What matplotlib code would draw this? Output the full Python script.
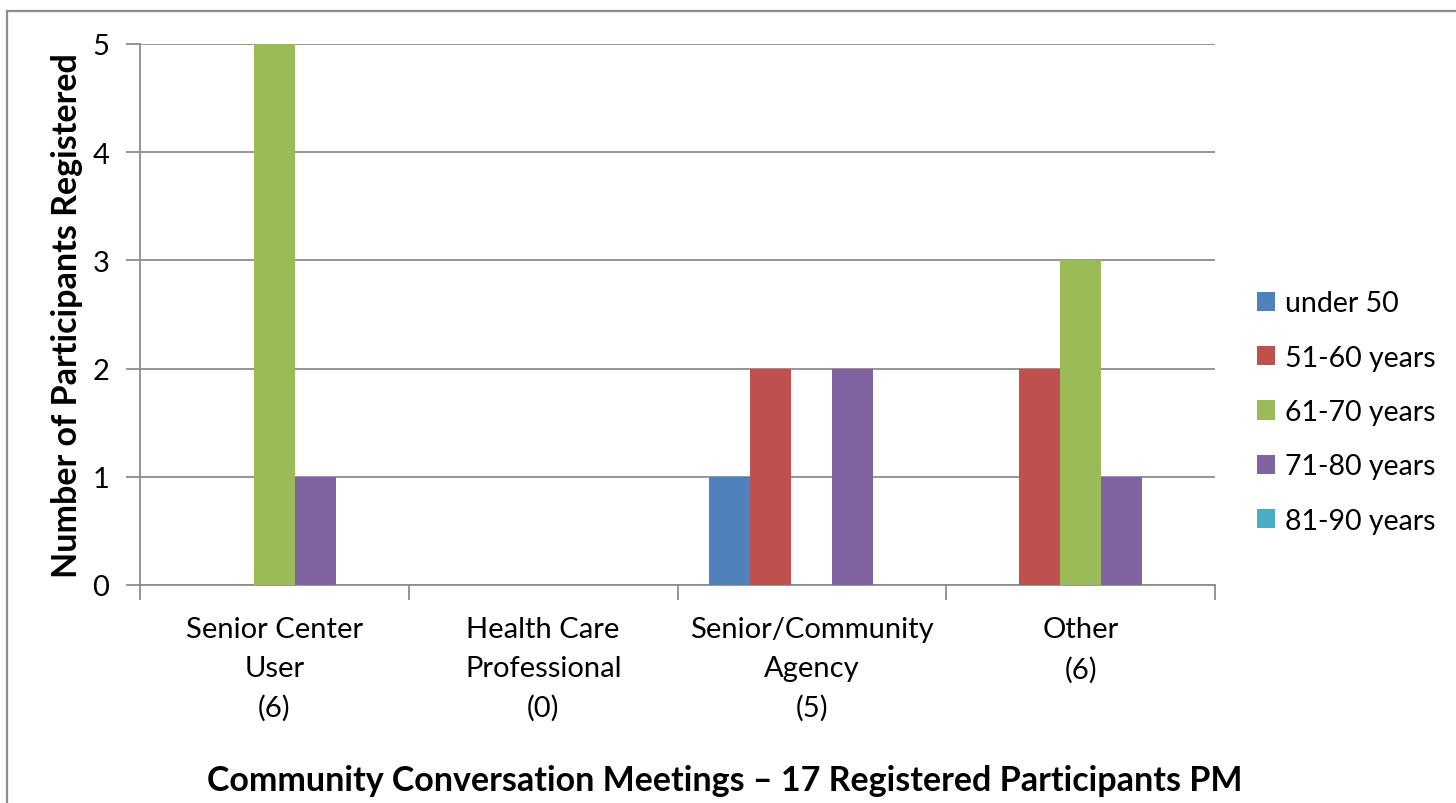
import numpy as np
import matplotlib
matplotlib.use("Agg")
import matplotlib.pyplot as plt
from matplotlib.patches import Rectangle

plt.rcParams['font.family'] = ['Lato', 'DejaVu Sans']

# data
categories = ["Senior Center\nUser\n(6)", "Health Care\nProfessional\n(0)",
              "Senior/Community\nAgency\n(5)", "Other\n(6)"]
series_names = ["under 50", "51-60 years", "61-70 years", "71-80 years", "81-90 years"]
under50 = [0, 0, 1, 0]
y51_60 = [0, 0, 2, 2]
y61_70 = [5, 0, 0, 3]
y71_80 = [1, 0, 2, 1]
y81_90 = [0, 0, 0, 0]
colors = ["#4F81BD", "#C0504D", "#9BBB59", "#8064A2", "#4BACC6"]
title = "Community Conversation Meetings \u2013 17 Registered Participants PM"

values = [under50, y51_60, y61_70, y71_80, y81_90]
grid_col = "#8C8C8C"

fig = plt.figure(figsize=(14.56, 8.04), dpi=100)
ax = fig.add_axes([140/1456, 1 - 586/804, (1215-140)/1456, (586-45)/804])

x = np.arange(len(categories))
bw = 0.1526
for i, (name, vals, c) in enumerate(zip(series_names, values, colors)):
    ax.bar(x + (i - 2) * bw, vals, width=bw, color=c, label=name, zorder=3)

ax.set_xlim(-0.5, len(categories) - 0.5)
ax.set_ylim(0, 5)
ax.set_yticks(range(6))
ax.yaxis.grid(True, color=grid_col, linewidth=1.3, zorder=0)
ax.tick_params(axis='y', labelsize=21, length=10, width=1.3, color=grid_col, pad=12)

# category labels at centers, tick marks at group boundaries
ax.set_xticks(x)
ax.set_xticklabels(categories, fontsize=21, linespacing=1.6)
ax.tick_params(axis='x', which='major', length=0, pad=22.5)
ax.set_xticks(np.arange(-0.5, len(categories)), minor=True)
ax.tick_params(axis='x', which='minor', length=11, width=1.3, color=grid_col)

for s in ['top', 'right']:
    ax.spines[s].set_visible(False)
for s in ['left', 'bottom']:
    ax.spines[s].set_color(grid_col)
    ax.spines[s].set_linewidth(1.3)

ax.set_ylabel("Number of Participants Registered", fontsize=24.5, fontweight='bold', labelpad=7)

leg = fig.legend(loc='center left', bbox_to_anchor=(1231/1456, 1 - 413/804),
                 frameon=False, fontsize=20.5, handlelength=0.65, handleheight=0.65,
                 handletextpad=0.35, labelspacing=1.0)

fig.text(725/1456, 1 - 781/804, title, ha='center', va='center',
         fontsize=24.5, fontweight='bold')

# outer chart border
fig.patches.append(Rectangle((7/1456, -0.1), 1.2, 1 - 12/804 + 0.1,
                             transform=fig.transFigure, fill=False,
                             edgecolor="#8C8C8C", linewidth=1.6))

fig.savefig("out.png", dpi=100)
